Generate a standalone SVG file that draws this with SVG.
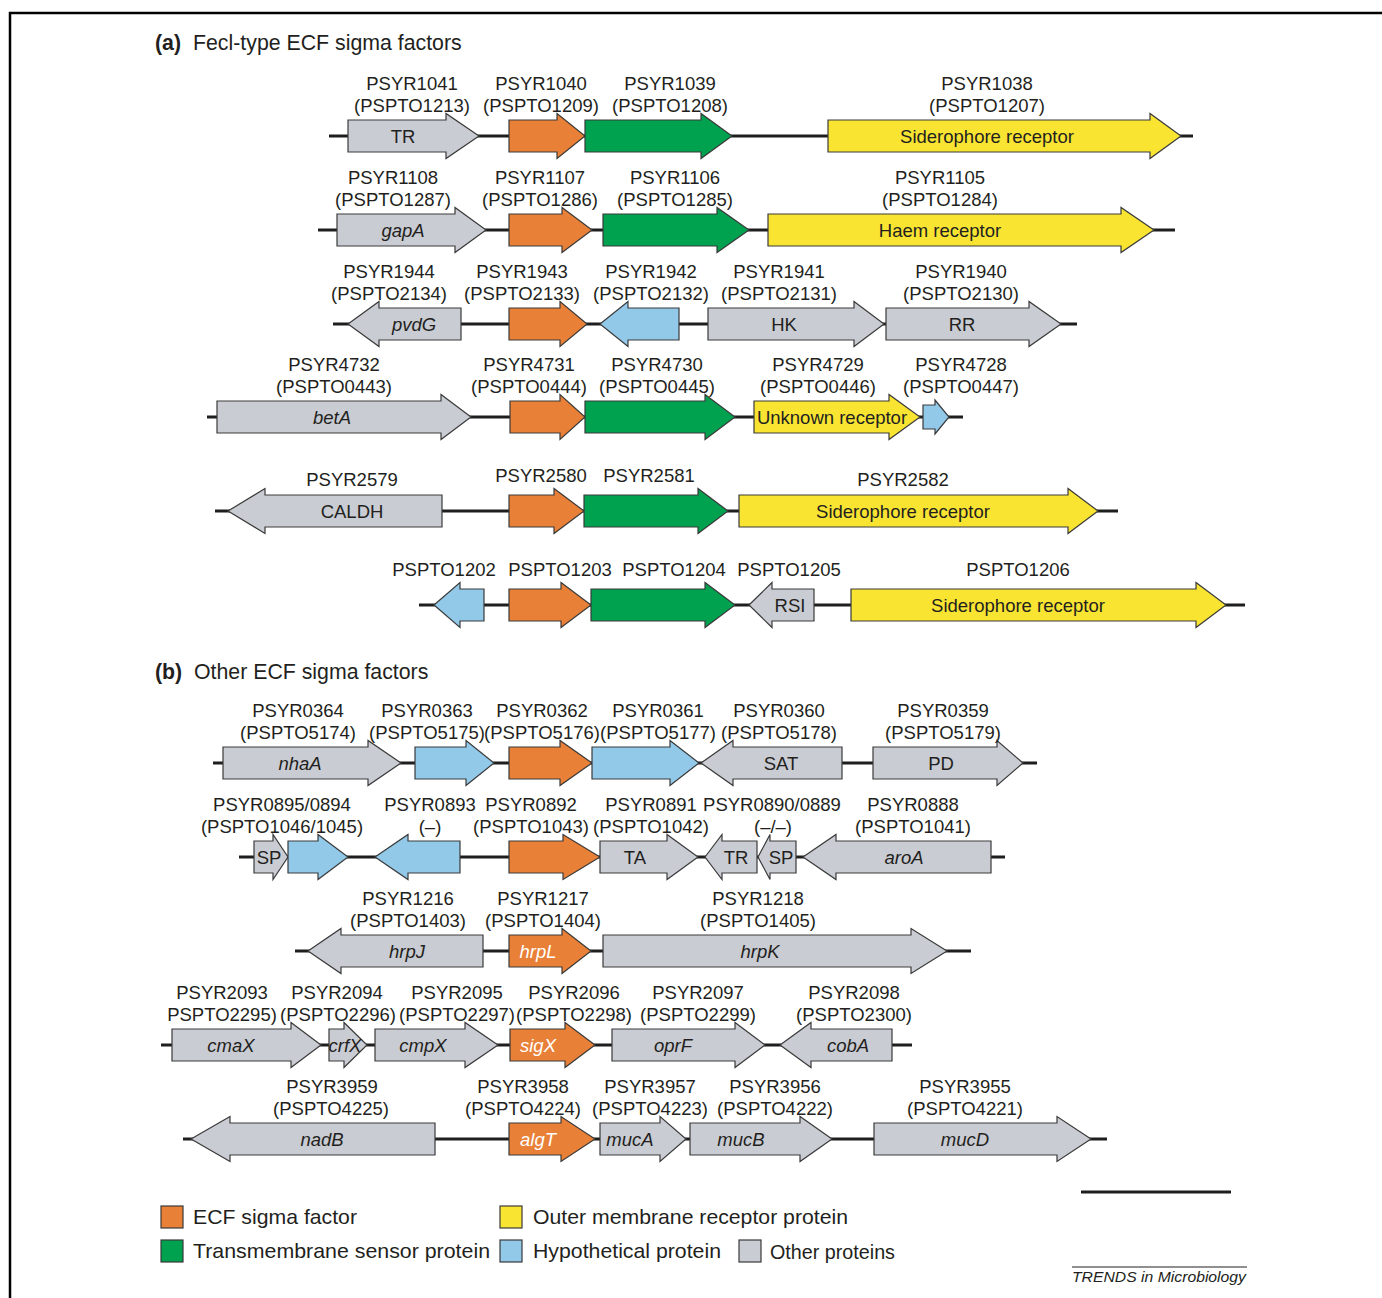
<svg xmlns="http://www.w3.org/2000/svg" width="1382" height="1298" viewBox="0 0 1382 1298">
<style>
text{font-family:"Liberation Sans",Arial,sans-serif;fill:#231f20}
.lb{font-size:18.5px;text-anchor:middle}
.in{font-size:18.5px;text-anchor:middle}
.it{font-style:italic}
.w{fill:#ffffff}
.ttl{font-size:21.3px}
.lg{font-size:21px}
polygon{stroke:#3a3a3a;stroke-width:1.2;stroke-linejoin:miter}
.or{fill:#e98037}.gr{fill:#00a14f}.ye{fill:#f9e432}.bl{fill:#92c8e8}.gy{fill:#c9ccd3}
.bb{stroke:#1e1e1e;stroke-width:3;fill:none}
rect.k{stroke:#3a3a3a;stroke-width:1.2}
</style>
<rect x="0" y="0" width="1382" height="1298" fill="#ffffff"/>
<path d="M10,1298 V13 H1382" fill="none" stroke="#000" stroke-width="2.5"/>

<text x="155" y="49.5" class="ttl"><tspan font-weight="bold">(a)</tspan><tspan x="193">Fecl-type ECF sigma factors</tspan></text>
<text x="155" y="679" class="ttl"><tspan font-weight="bold">(b)</tspan><tspan x="194">Other ECF sigma factors</tspan></text>

<g id="connectors">
<line class="bb" x1="329" y1="136" x2="1193" y2="136"/>
<line class="bb" x1="318" y1="230" x2="1175" y2="230"/>
<line class="bb" x1="333" y1="324" x2="1077" y2="324"/>
<line class="bb" x1="207" y1="417" x2="963" y2="417"/>
<line class="bb" x1="215" y1="511" x2="1118" y2="511"/>
<line class="bb" x1="419" y1="605" x2="1245" y2="605"/>
<line class="bb" x1="213" y1="763" x2="1037" y2="763"/>
<line class="bb" x1="239" y1="857" x2="1005" y2="857"/>
<line class="bb" x1="295" y1="951" x2="971" y2="951"/>
<line class="bb" x1="161" y1="1045" x2="912" y2="1045"/>
<line class="bb" x1="183" y1="1139" x2="1107" y2="1139"/>
</g>

<!-- Row a1 -->
<g id="PSYR1041"><polygon class="gy" points="348,120 446,120 446,113.5 479,136 446,158.5 446,152 348,152"/><text class="in" x="403" y="142.5">TR</text><text class="lb" x="412" y="89.5">PSYR1041</text><text class="lb" x="412" y="111.5">(PSPTO1213)</text></g>
<g id="PSYR1040"><polygon class="or" points="509,120 557,120 557,113.5 585,136 557,158.5 557,152 509,152"/><text class="lb" x="541" y="89.5">PSYR1040</text><text class="lb" x="541" y="111.5">(PSPTO1209)</text></g>
<g id="PSYR1039"><polygon class="gr" points="585,120 701,120 701,113.5 732,136 701,158.5 701,152 585,152"/><text class="lb" x="670" y="89.5">PSYR1039</text><text class="lb" x="670" y="111.5">(PSPTO1208)</text></g>
<g id="PSYR1038"><polygon class="ye" points="828,120 1150,120 1150,113.5 1181,136 1150,158.5 1150,152 828,152"/><text class="in" x="987" y="142.5">Siderophore receptor</text><text class="lb" x="987" y="89.5">PSYR1038</text><text class="lb" x="987" y="111.5">(PSPTO1207)</text></g>

<!-- Row a2 -->
<g id="PSYR1108"><polygon class="gy" points="337,214 455,214 455,207.5 486,230 455,252.5 455,246 337,246"/><text class="in it" x="403" y="236.5">gapA</text><text class="lb" x="393" y="183.5">PSYR1108</text><text class="lb" x="393" y="205.5">(PSPTO1287)</text></g>
<g id="PSYR1107"><polygon class="or" points="509,214 562,214 562,207.5 592,230 562,252.5 562,246 509,246"/><text class="lb" x="540" y="183.5">PSYR1107</text><text class="lb" x="540" y="205.5">(PSPTO1286)</text></g>
<g id="PSYR1106"><polygon class="gr" points="603,214 717,214 717,207.5 749,230 717,252.5 717,246 603,246"/><text class="lb" x="675" y="183.5">PSYR1106</text><text class="lb" x="675" y="205.5">(PSPTO1285)</text></g>
<g id="PSYR1105"><polygon class="ye" points="768,214 1121,214 1121,207.5 1154,230 1121,252.5 1121,246 768,246"/><text class="in" x="940" y="236.5">Haem receptor</text><text class="lb" x="940" y="183.5">PSYR1105</text><text class="lb" x="940" y="205.5">(PSPTO1284)</text></g>

<!-- Row a3 -->
<g id="PSYR1944"><polygon class="gy" points="348,324 379,301.5 379,308 461,308 461,340 379,340 379,346.5"/><text class="in it" x="414" y="330.5">pvdG</text><text class="lb" x="389" y="277.5">PSYR1944</text><text class="lb" x="389" y="299.5">(PSPTO2134)</text></g>
<g id="PSYR1943"><polygon class="or" points="509,308 560,308 560,301.5 587,324 560,346.5 560,340 509,340"/><text class="lb" x="522" y="277.5">PSYR1943</text><text class="lb" x="522" y="299.5">(PSPTO2133)</text></g>
<g id="PSYR1942"><polygon class="bl" points="600,324 628,301.5 628,308 679,308 679,340 628,340 628,346.5"/><text class="lb" x="651" y="277.5">PSYR1942</text><text class="lb" x="651" y="299.5">(PSPTO2132)</text></g>
<g id="PSYR1941"><polygon class="gy" points="708,308 854,308 854,301.5 884,324 854,346.5 854,340 708,340"/><text class="in" x="784" y="330.5">HK</text><text class="lb" x="779" y="277.5">PSYR1941</text><text class="lb" x="779" y="299.5">(PSPTO2131)</text></g>
<g id="PSYR1940"><polygon class="gy" points="886,308 1029,308 1029,301.5 1061,324 1029,346.5 1029,340 886,340"/><text class="in" x="962" y="330.5">RR</text><text class="lb" x="961" y="277.5">PSYR1940</text><text class="lb" x="961" y="299.5">(PSPTO2130)</text></g>

<!-- Row a4 -->
<g id="PSYR4732"><polygon class="gy" points="217,401 441,401 441,394.5 471,417 441,439.5 441,433 217,433"/><text class="in it" x="332" y="423.5">betA</text><text class="lb" x="334" y="370.5">PSYR4732</text><text class="lb" x="334" y="392.5">(PSPTO0443)</text></g>
<g id="PSYR4731"><polygon class="or" points="510,401 560,401 560,394.5 585,417 560,439.5 560,433 510,433"/><text class="lb" x="529" y="370.5">PSYR4731</text><text class="lb" x="529" y="392.5">(PSPTO0444)</text></g>
<g id="PSYR4730"><polygon class="gr" points="585,401 705,401 705,394.5 735,417 705,439.5 705,433 585,433"/><text class="lb" x="657" y="370.5">PSYR4730</text><text class="lb" x="657" y="392.5">(PSPTO0445)</text></g>
<g id="PSYR4729"><polygon class="ye" points="754,401 889,401 889,394.5 920,417 889,439.5 889,433 754,433"/><text class="in" x="832" y="423.5">Unknown receptor</text><text class="lb" x="818" y="370.5">PSYR4729</text><text class="lb" x="818" y="392.5">(PSPTO0446)</text></g>
<g id="PSYR4728"><polygon class="bl" points="923,405 935,405 935,400 949,417 935,434 935,429 923,429"/><text class="lb" x="961" y="370.5">PSYR4728</text><text class="lb" x="961" y="392.5">(PSPTO0447)</text></g>

<!-- Row a5 -->
<g id="PSYR2579"><polygon class="gy" points="228,511 265,488.5 265,495 442,495 442,527 265,527 265,533.5"/><text class="in" x="352" y="517.5">CALDH</text><text class="lb" x="352" y="486">PSYR2579</text></g>
<g id="PSYR2580"><polygon class="or" points="509,495 554,495 554,488.5 584,511 554,533.5 554,527 509,527"/><text class="lb" x="541" y="482">PSYR2580</text></g>
<g id="PSYR2581"><polygon class="gr" points="584,495 698,495 698,488.5 728,511 698,533.5 698,527 584,527"/><text class="lb" x="649" y="482">PSYR2581</text></g>
<g id="PSYR2582"><polygon class="ye" points="739,495 1068,495 1068,488.5 1098,511 1068,533.5 1068,527 739,527"/><text class="in" x="903" y="517.5">Siderophore receptor</text><text class="lb" x="903" y="486">PSYR2582</text></g>

<!-- Row a6 -->
<g id="PSPTO1202"><polygon class="bl" points="434,605 460,582.5 460,589 484,589 484,621 460,621 460,627.5"/><text class="lb" x="444" y="576">PSPTO1202</text></g>
<g id="PSPTO1203"><polygon class="or" points="509,589 561,589 561,582.5 591,605 561,627.5 561,621 509,621"/><text class="lb" x="560" y="576">PSPTO1203</text></g>
<g id="PSPTO1204"><polygon class="gr" points="591,589 705,589 705,582.5 735,605 705,627.5 705,621 591,621"/><text class="lb" x="674" y="576">PSPTO1204</text></g>
<g id="PSPTO1205"><polygon class="gy" points="749,605 772,582.5 772,589 814,589 814,621 772,621 772,627.5"/><text class="in" x="790" y="611.5">RSI</text><text class="lb" x="789" y="576">PSPTO1205</text></g>
<g id="PSPTO1206"><polygon class="ye" points="851,589 1196,589 1196,582.5 1226,605 1196,627.5 1196,621 851,621"/><text class="in" x="1018" y="611.5">Siderophore receptor</text><text class="lb" x="1018" y="576">PSPTO1206</text></g>

<!-- Row b1 -->
<g id="PSYR0364"><polygon class="gy" points="223,747 368,747 368,740.5 401,763 368,785.5 368,779 223,779"/><text class="in it" x="300" y="769.5">nhaA</text><text class="lb" x="298" y="716.5">PSYR0364</text><text class="lb" x="298" y="738.5">(PSPTO5174)</text></g>
<g id="PSYR0363"><polygon class="bl" points="415,747 466,747 466,740.5 494,763 466,785.5 466,779 415,779"/><text class="lb" x="427" y="716.5">PSYR0363</text><text class="lb" x="427" y="738.5">(PSPTO5175)</text></g>
<g id="PSYR0362"><polygon class="or" points="509,747 560,747 560,740.5 592,763 560,785.5 560,779 509,779"/><text class="lb" x="542" y="716.5">PSYR0362</text><text class="lb" x="542" y="738.5">(PSPTO5176)</text></g>
<g id="PSYR0361"><polygon class="bl" points="592,747 670,747 670,740.5 699,763 670,785.5 670,779 592,779"/><text class="lb" x="658" y="716.5">PSYR0361</text><text class="lb" x="658" y="738.5">(PSPTO5177)</text></g>
<g id="PSYR0360"><polygon class="gy" points="701,763 733,740.5 733,747 842,747 842,779 733,779 733,785.5"/><text class="in" x="781" y="769.5">SAT</text><text class="lb" x="779" y="716.5">PSYR0360</text><text class="lb" x="779" y="738.5">(PSPTO5178)</text></g>
<g id="PSYR0359"><polygon class="gy" points="873,747 997,747 997,740.5 1023,763 997,785.5 997,779 873,779"/><text class="in" x="941" y="769.5">PD</text><text class="lb" x="943" y="716.5">PSYR0359</text><text class="lb" x="943" y="738.5">(PSPTO5179)</text></g>

<!-- Row b2 -->
<g id="PSYR0895"><polygon class="gy" points="254,841 273,841 273,834.5 288,857 273,879.5 273,873 254,873"/><text class="in" x="269" y="863.5">SP</text><text class="lb" x="282" y="810.5">PSYR0895/0894</text><text class="lb" x="282" y="832.5">(PSPTO1046/1045)</text></g>
<g id="PSYR0894"><polygon class="bl" points="288,841 318,841 318,834.5 348,857 318,879.5 318,873 288,873"/></g>
<g id="PSYR0893"><polygon class="bl" points="375,857 408,834.5 408,841 460,841 460,873 408,873 408,879.5"/><text class="lb" x="430" y="810.5">PSYR0893</text><text class="lb" x="430" y="832.5">(–)</text></g>
<g id="PSYR0892"><polygon class="or" points="509,841 563,841 563,834.5 600,857 563,879.5 563,873 509,873"/><text class="lb" x="531" y="810.5">PSYR0892</text><text class="lb" x="531" y="832.5">(PSPTO1043)</text></g>
<g id="PSYR0891"><polygon class="gy" points="600,841 667,841 667,834.5 698,857 667,879.5 667,873 600,873"/><text class="in" x="635" y="863.5">TA</text><text class="lb" x="651" y="810.5">PSYR0891</text><text class="lb" x="651" y="832.5">(PSPTO1042)</text></g>
<g id="PSYR0890"><polygon class="gy" points="705,857 722,834.5 722,841 757,841 757,873 722,873 722,879.5"/><text class="in" x="736" y="863.5">TR</text><text class="lb" x="772" y="810.5">PSYR0890/0889</text><text class="lb" x="773" y="832.5">(–/–)</text></g>
<g id="PSYR0889"><polygon class="gy" points="758,857 770,834.5 770,841 796,841 796,873 770,873 770,879.5"/><text class="in" x="781" y="863.5">SP</text></g>
<g id="PSYR0888"><polygon class="gy" points="803,857 836,834.5 836,841 991,841 991,873 836,873 836,879.5"/><text class="in it" x="904" y="863.5">aroA</text><text class="lb" x="913" y="810.5">PSYR0888</text><text class="lb" x="913" y="832.5">(PSPTO1041)</text></g>

<!-- Row b3 -->
<g id="PSYR1216"><polygon class="gy" points="308,951 341,928.5 341,935 483,935 483,967 341,967 341,973.5"/><text class="in it" x="407" y="957.5">hrpJ</text><text class="lb" x="408" y="904.5">PSYR1216</text><text class="lb" x="408" y="926.5">(PSPTO1403)</text></g>
<g id="PSYR1217"><polygon class="or" points="509,935 562,935 562,928.5 591,951 562,973.5 562,967 509,967"/><text class="in it w" x="538" y="957.5">hrpL</text><text class="lb" x="543" y="904.5">PSYR1217</text><text class="lb" x="543" y="926.5">(PSPTO1404)</text></g>
<g id="PSYR1218"><polygon class="gy" points="603,935 911,935 911,928.5 947,951 911,973.5 911,967 603,967"/><text class="in it" x="760" y="957.5">hrpK</text><text class="lb" x="758" y="904.5">PSYR1218</text><text class="lb" x="758" y="926.5">(PSPTO1405)</text></g>

<!-- Row b4 -->
<g id="PSYR2093"><polygon class="gy" points="172,1029 291,1029 291,1022.5 321,1045 291,1067.5 291,1061 172,1061"/><text class="in it" x="231" y="1051.5">cmaX</text><text class="lb" x="222" y="998.5">PSYR2093</text><text class="lb" x="222" y="1020.5">PSPTO2295)</text></g>
<g id="PSYR2094"><polygon class="gy" points="329,1029 344,1029 344,1022.5 367,1045 344,1067.5 344,1061 329,1061"/><text class="in it" x="345" y="1051.5">crfX</text><text class="lb" x="337" y="998.5">PSYR2094</text><text class="lb" x="338" y="1020.5">(PSPTO2296)</text></g>
<g id="PSYR2095"><polygon class="gy" points="375,1029 465,1029 465,1022.5 498,1045 465,1067.5 465,1061 375,1061"/><text class="in it" x="423" y="1051.5">cmpX</text><text class="lb" x="457" y="998.5">PSYR2095</text><text class="lb" x="457" y="1020.5">(PSPTO2297)</text></g>
<g id="PSYR2096"><polygon class="or" points="510,1029 565,1029 565,1022.5 595,1045 565,1067.5 565,1061 510,1061"/><text class="in it w" x="538" y="1051.5">sigX</text><text class="lb" x="574" y="998.5">PSYR2096</text><text class="lb" x="574" y="1020.5">(PSPTO2298)</text></g>
<g id="PSYR2097"><polygon class="gy" points="612,1029 735,1029 735,1022.5 765,1045 735,1067.5 735,1061 612,1061"/><text class="in it" x="673" y="1051.5">oprF</text><text class="lb" x="698" y="998.5">PSYR2097</text><text class="lb" x="698" y="1020.5">(PSPTO2299)</text></g>
<g id="PSYR2098"><polygon class="gy" points="780,1045 811,1022.5 811,1029 892,1029 892,1061 811,1061 811,1067.5"/><text class="in it" x="848" y="1051.5">cobA</text><text class="lb" x="854" y="998.5">PSYR2098</text><text class="lb" x="854" y="1020.5">(PSPTO2300)</text></g>

<!-- Row b5 -->
<g id="PSYR3959"><polygon class="gy" points="191,1139 230,1116.5 230,1123 435,1123 435,1155 230,1155 230,1161.5"/><text class="in it" x="322" y="1145.5">nadB</text><text class="lb" x="332" y="1092.5">PSYR3959</text><text class="lb" x="331" y="1114.5">(PSPTO4225)</text></g>
<g id="PSYR3958"><polygon class="or" points="509,1123 561,1123 561,1116.5 595,1139 561,1161.5 561,1155 509,1155"/><text class="in it w" x="538" y="1145.5">algT</text><text class="lb" x="523" y="1092.5">PSYR3958</text><text class="lb" x="523" y="1114.5">(PSPTO4224)</text></g>
<g id="PSYR3957"><polygon class="gy" points="600,1123 660,1123 660,1116.5 686,1139 660,1161.5 660,1155 600,1155"/><text class="in it" x="630" y="1145.5">mucA</text><text class="lb" x="650" y="1092.5">PSYR3957</text><text class="lb" x="650" y="1114.5">(PSPTO4223)</text></g>
<g id="PSYR3956"><polygon class="gy" points="690,1123 800,1123 800,1116.5 832,1139 800,1161.5 800,1155 690,1155"/><text class="in it" x="741" y="1145.5">mucB</text><text class="lb" x="775" y="1092.5">PSYR3956</text><text class="lb" x="775" y="1114.5">(PSPTO4222)</text></g>
<g id="PSYR3955"><polygon class="gy" points="874,1123 1057,1123 1057,1116.5 1091,1139 1057,1161.5 1057,1155 874,1155"/><text class="in it" x="965" y="1145.5">mucD</text><text class="lb" x="965" y="1092.5">PSYR3955</text><text class="lb" x="965" y="1114.5">(PSPTO4221)</text></g>

<!-- Legend -->
<g id="legend">
<rect class="k or" x="161" y="1206" width="22" height="22"/><text class="lg" x="193" y="1224" textLength="164" lengthAdjust="spacingAndGlyphs">ECF sigma factor</text>
<rect class="k ye" x="500" y="1206" width="22" height="22"/><text class="lg" x="533" y="1224" textLength="315" lengthAdjust="spacingAndGlyphs">Outer membrane receptor protein</text>
<rect class="k gr" x="161" y="1240" width="22" height="22"/><text class="lg" x="193" y="1258" textLength="297" lengthAdjust="spacingAndGlyphs">Transmembrane sensor protein</text>
<rect class="k bl" x="500" y="1240" width="22" height="22"/><text class="lg" x="533" y="1258" textLength="188" lengthAdjust="spacingAndGlyphs">Hypothetical protein</text>
<rect class="k gy" x="739" y="1240" width="22" height="22"/><text class="lg" x="770" y="1259" textLength="125" lengthAdjust="spacingAndGlyphs">Other proteins</text>
</g>

<g id="scalebar"><line x1="1081" y1="1192" x2="1231" y2="1192" stroke="#1e1e1e" stroke-width="3"/></g>
<g id="credit"><line x1="1072" y1="1267" x2="1247" y2="1267" stroke="#231f20" stroke-width="1"/><text x="1072" y="1282" font-size="15.5" font-style="italic" textLength="174" lengthAdjust="spacingAndGlyphs">TRENDS in Microbiology</text></g>
</svg>
